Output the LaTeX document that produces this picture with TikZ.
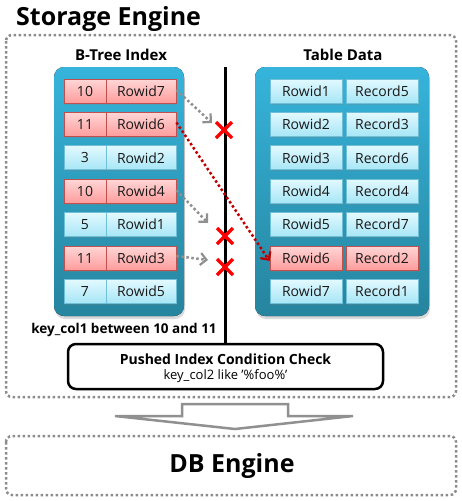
\documentclass[tikz,border=0pt]{standalone}
\usepackage{fontspec}
\setmainfont{Open Sans}
\usetikzlibrary{arrows.meta,shadows,calc}
\definecolor{cbtop}{HTML}{E2F9FF}
\definecolor{cbbot}{HTML}{A6E6F6}
\definecolor{cbbd}{HTML}{6FBFD6}
\definecolor{crtop}{HTML}{FFD6D6}
\definecolor{crbot}{HTML}{FF9C9C}
\definecolor{crbd}{HTML}{C0504D}
\definecolor{pantop}{HTML}{36B4DB}
\definecolor{panbot}{HTML}{26849E}
\definecolor{dotgray}{HTML}{8C8C8C}
\definecolor{arrgray}{HTML}{909090}
\definecolor{darkred}{HTML}{C00000}
\definecolor{xred}{HTML}{FF0000}
\tikzset{
  cellbase/.style={minimum height=24, inner sep=0, line width=0.8,
    font=\fontsize{14}{16}\selectfont, text=black!90,
    drop shadow={shadow xshift=1pt, shadow yshift=-1.5pt, opacity=.3}},
  cellb/.style={cellbase, draw=cbbd, top color=cbtop, bottom color=cbbot},
  cellr/.style={cellbase, draw=crbd, top color=crtop, bottom color=crbot},
  panel/.style={rounded corners=10, top color=pantop, bottom color=panbot, draw=none,
    drop shadow={shadow xshift=1pt, shadow yshift=-3pt, opacity=.3}},
  dotbox/.style={draw=dotgray, line width=2.5, dash pattern=on 2.5 off 2.5, rounded corners=6},
  gdot/.style={draw=arrgray, line width=2.5, dash pattern=on 2.5 off 2.5,
    -{Straight Barb[length=6,width=12,line width=2.2]}},
  rdot/.style={draw=darkred, line width=2.5, dash pattern=on 2.5 off 2.5,
    -{Straight Barb[length=6,width=12,line width=2.2]}},
  xmark/.style={draw=xred, line width=3.5},
  hdr/.style={font=\bfseries\fontsize{15}{17}\selectfont},
  big/.style={font=\bfseries\fontsize{25}{30}\selectfont},
}
\begin{document}
\begin{tikzpicture}[x=1pt,y=-1pt]
\useasboundingbox (0,0) rectangle (462,501);
% title
\node[big, anchor=base west, inner sep=0] (title) at (16,25) {Storage Engine};
% outer boxes
\draw[dotbox] (6,35) rectangle (456,397);
\draw[dotbox] (6,436) rectangle (456,495);
\node[big] (db) at (232,466) {DB Engine};
% headers
\node[hdr] (bth) at (121,55) {B-Tree Index};
\node[hdr] (tdh) at (343,55) {Table Data};
% panels
\fill[panel] (54,67) rectangle (184,316);
\fill[panel] (255,67) rectangle (429,316);
% left cells
\foreach \i/\k/\r/\c in {1/10/7/cellr,2/11/6/cellr,3/3/2/cellb,4/10/4/cellr,5/5/1/cellb,6/11/3/cellr,7/7/5/cellb}{
  \pgfmathsetmacro{\yy}{91+33.4*(\i-1)}
  \node[\c, minimum width=42] (lk\i) at (85,\yy) {\k};
  \node[\c, minimum width=70] (lr\i) at (141,\yy) {Rowid\r};
}
% right cells
\foreach \i/\r/\c in {1/5/cellb,2/3/cellb,3/6/cellb,4/4/cellb,5/7/cellb,6/2/cellr,7/1/cellb}{
  \pgfmathsetmacro{\yy}{91+33.4*(\i-1)}
  \node[\c, minimum width=72] (ra\i) at (306,\yy) {Rowid\i};
  \node[\c, minimum width=72] (rb\i) at (382,\yy) {Record\r};
}
% key condition text
\node[font=\bfseries\fontsize{13.5}{16}\selectfont] (kc) at (124,330) {key\_col1 between 10 and 11};
% pushed index box
\node[draw=black, line width=2.5, rounded corners=8, fill=white, minimum width=315, minimum height=45,
  inner sep=0] (pic) at (225.5,366.5) {};
\node[font=\bfseries\fontsize{14}{16}\selectfont] (pic1) at (225.5,359) {Pushed Index Condition Check};
\node[font=\fontsize{13}{15}\selectfont] (pic2) at (225.5,376) {key\_col2 like '\%foo\%'};
% vertical line
\coordinate (vtop) at (225,67);
\draw[line width=3] (vtop) -- (vtop |- pic.north);
% arrows
\coordinate (a1) at (212,123);
\coordinate (a3) at (208,223);
\coordinate (a4) at (208,260);
\draw[gdot] ([yshift=1]lr1.east) -- (a1);
\draw[gdot] ([yshift=1]lr4.east) -- (a3);
\draw[gdot] ([yshift=2]lr6.east) -- (a4);
\draw[rdot] ([yshift=2]lr2.east) -- ([yshift=-3]ra6.west);
% red crosses
\coordinate (x1) at (224,130);
\coordinate (x2) at (225,236);
\coordinate (x3) at (225,267);
\foreach \p in {x1,x2,x3}{
  \draw[xmark] ($(\p)+(-8,-8)$) -- ($(\p)+(8,8)$);
  \draw[xmark] ($(\p)+(-8,8)$) -- ($(\p)+(8,-8)$);
}
% big hollow arrow
\draw[draw=arrgray, line width=2.5, fill=white, line join=miter]
  (182,404) -- (288,404) -- (288,416) -- (353,416) -- (235,429) -- (115,416) -- (182,416) -- cycle;
\end{tikzpicture}
\end{document}
